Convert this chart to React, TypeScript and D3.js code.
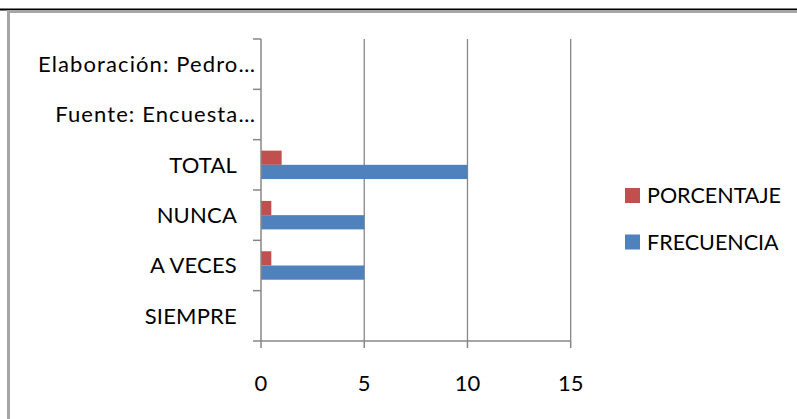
import React from "react";
import * as d3 from "d3";

// Categories listed bottom to top as they appear on the axis
const categories = [
  "SIEMPRE",
  "A VECES",
  "NUNCA",
  "TOTAL",
  "Fuente: Encuesta…",
  "Elaboración: Pedro…",
];
const frecuencia = [0, 5, 5, 10, null, null];
const porcentaje = [0, 0.5, 0.5, 1, null, null];
const seriesNames = ["PORCENTAJE", "FRECUENCIA"];
const seriesColors = ["#C0504D", "#4F81BD"];
const xTicks = [0, 5, 10, 15];

const W = 797;
const H = 419;
const FONT = "Lato, 'Open Sans', sans-serif";

export default function App() {
  const x = d3.scaleLinear().domain([0, 15]).range([261, 570.7]);
  const y = d3
    .scaleBand<string>()
    .domain([...categories].reverse())
    .range([39, 341])
    .paddingInner(0)
    .paddingOuter(0);
  const inner = d3
    .scaleBand<string>()
    .domain(seriesNames)
    .range([0, y.bandwidth()])
    .paddingInner(0)
    .paddingOuter(0.77);

  const values: Record<string, (number | null)[]> = {
    PORCENTAJE: porcentaje,
    FRECUENCIA: frecuencia,
  };

  const axisColor = "#878787";
  const boundaries = y.domain().map((c) => y(c)!).concat([y.range()[1]]);

  return (
    <svg
      width={W}
      height={H}
      style={{ position: "absolute", left: 0, top: 0, background: "#fff" }}
      fontFamily={FONT}
    >
      {/* outer frame */}
      <line x1={0} x2={W} y1={9.5} y2={9.5} stroke="#000" strokeWidth={2} />
      <rect
        x={8.5}
        y={11.5}
        width={W + 20}
        height={H + 20}
        fill="none"
        stroke="#a6a6a6"
        strokeWidth={3}
      />

      {/* vertical gridlines */}
      {xTicks.slice(1).map((t) => (
        <line
          key={t}
          x1={x(t)}
          x2={x(t)}
          y1={y.range()[0]}
          y2={y.range()[1]}
          stroke={axisColor}
          strokeWidth={1.3}
        />
      ))}

      {/* bars */}
      {categories.map((c, i) =>
        seriesNames.map((s, j) => {
          const v = values[s][i];
          if (v == null || v === 0) return null;
          return (
            <rect
              key={c + s}
              x={x(0)}
              y={y(c)! + inner(s)!}
              width={x(v) - x(0)}
              height={inner.bandwidth()}
              fill={seriesColors[j]}
            />
          );
        })
      )}

      {/* y axis */}
      <line
        x1={x(0)}
        x2={x(0)}
        y1={y.range()[0]}
        y2={y.range()[1]}
        stroke={axisColor}
        strokeWidth={1.5}
      />
      {boundaries.map((b, i) => (
        <line
          key={i}
          x1={x(0) - 8}
          x2={x(0)}
          y1={b}
          y2={b}
          stroke={axisColor}
          strokeWidth={1.5}
        />
      ))}
      {categories.map((c) => {
        const truncated = c.endsWith("…");
        return (
          <text
            key={c}
            x={truncated ? 256 : 237}
            y={y(c)! + y.bandwidth() / 2}
            dy="0.35em"
            textAnchor="end"
            fontSize={22}
            letterSpacing={truncated ? 1.1 : 0.2}
            fill="#000"
          >
            {c}
          </text>
        );
      })}

      {/* x axis */}
      <line
        x1={x(0)}
        x2={x(15)}
        y1={y.range()[1]}
        y2={y.range()[1]}
        stroke={axisColor}
        strokeWidth={1.5}
      />
      {xTicks.map((t) => (
        <g key={t}>
          <line
            x1={x(t)}
            x2={x(t)}
            y1={y.range()[1]}
            y2={y.range()[1] + 7}
            stroke={axisColor}
            strokeWidth={1.5}
          />
          <text
            x={x(t)}
            y={383}
            dy="0.35em"
            textAnchor="middle"
            fontSize={22}
            fill="#000"
          >
            {t}
          </text>
        </g>
      ))}

      {/* legend */}
      {seriesNames.map((s, j) => (
        <g key={s} transform={`translate(625, ${188 + j * 46.5})`}>
          <rect x={0} y={0} width={15} height={15} fill={seriesColors[j]} />
          <text x={22} y={7.5} dy="0.35em" fontSize={21.5} fill="#000">
            {s}
          </text>
        </g>
      ))}
    </svg>
  );
}
